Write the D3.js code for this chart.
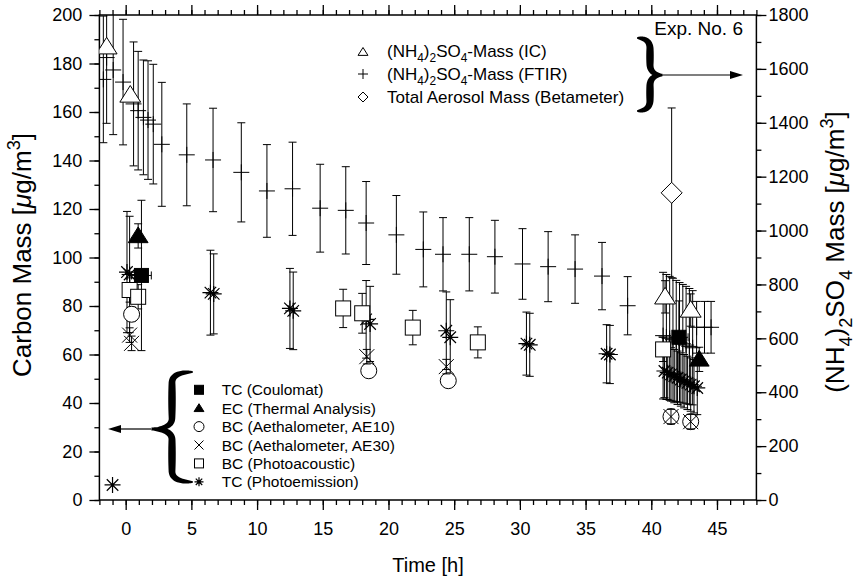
<!DOCTYPE html>
<html><head><meta charset="utf-8">
<script src="https://cdn.jsdelivr.net/npm/d3@7"></script>
<style>
body{margin:0;background:#fff}
svg text{font-family:"Liberation Sans",Arial,Helvetica,sans-serif;fill:#000}
</style></head><body>
<svg id="chart" width="855" height="583"></svg>
<script>
// ---- axis ticks ----
const timeTicks = [0, 5, 10, 15, 20, 25, 30, 35, 40, 45];
const carbonTicks = [0, 20, 40, 60, 80, 100, 120, 140, 160, 180, 200];
const sulfateTicks = [0, 200, 400, 600, 800, 1000, 1200, 1400, 1600, 1800];

// ---- carbon mass series (left axis, µg/m³) ----
const coulTime = [1.2, 42.1];
const coulMass = [92.6, 67.1];
const coulErr = [31, 15];
const coulTimeErr = [0.75, 0.7];

const ecTime = [0.95, 43.65];
const ecMass = [108.9, 58.0];
const ecErr = [5, 5];

const ae10Time = [0.45, 18.5, 24.55, 41.5, 43.0];
const ae10Mass = [76.6, 53.3, 49.2, 34.4, 32.3];
const ae10Err = [3, 2.5, 2.5, 3, 3];

const ae30Time = [0.3, 0.45, 18.35, 24.4, 41.5, 43.0];
const ae30Mass = [68.0, 64.6, 59.1, 55.0, 34.4, 32.3];
const ae30Err = [3, 3, 3, 3, 3, 3];

const paTime = [0.3, 0.95, 16.55, 18.0, 21.85, 26.8, 40.9];
const paMass = [86.6, 83.8, 79.0, 77.0, 71.1, 65.0, 62.1];
const paErr = [5, 5, 7.9, 8.2, 7.1, 6.4, 5];

const peTime = [-1.0, 0.1, 0.3, 6.45, 6.7, 12.5, 12.75, 18.3, 18.6, 24.4, 24.7, 30.5, 30.75, 36.6, 36.85,
  41.0, 41.25, 41.5, 41.75, 42.0, 42.25, 42.5, 42.75, 43.0, 43.25, 43.5];
const peMass = [6.2, 94, 93, 85.5, 85, 79, 78, 74.5, 72.6, 69.8, 67.1, 64.5, 64, 60.3, 60,
  53.2, 52.5, 51.8, 51.1, 50.4, 49.7, 49.0, 48.3, 47.6, 46.9, 46.2];
const peErr = [0, 25, 24, 17.5, 16.5, 16.5, 16, 16, 15.5, 16, 15.5, 13, 13, 12, 12,
  11, 11, 11, 11, 11, 11, 11, 11, 11, 11, 11];

// ---- (NH4)2SO4 / aerosol mass series (right axis, µg/m³) ----
const icTime = [-1.45, 0.35, 41.05, 43.0];
const icMass = [1682, 1503, 754, 705];
const icErr = [0, 0, 60, 60];

const ftirTime = [-1.7, -1.45, -0.95, -0.2, 0.6, 0.95, 1.35, 1.7, 2.1, 2.75, 4.65, 6.65, 8.8, 10.75,
  12.7, 14.8, 16.75, 18.3, 20.6, 22.65, 24.15, 26.15, 28.1, 30.2, 32.15, 34.2, 36.25, 38.2,
  40.9, 41.15, 41.4, 41.65, 41.9, 42.15, 42.4, 42.65, 42.9, 43.15, 43.45, 44.05, 44.55];
const ftirMass = [1561, 1642, 1596, 1551, 1470, 1445, 1420, 1410, 1395, 1320, 1281, 1262, 1216, 1147,
  1155, 1083, 1075, 1028, 984, 930, 912, 912, 903, 876, 866, 857, 831, 721,
  610, 605, 600, 595, 590, 585, 580, 575, 570, 565, 641, 641, 641];
const ftirErr = [235, 244, 240, 233, 230, 220, 213, 220, 222, 230, 189, 192, 184, 172,
  173, 163, 162, 154, 146, 139, 136, 136, 135, 131, 130, 127, 125, 108,
  235, 232, 230, 228, 225, 222, 220, 218, 215, 212, 96, 96, 96];

const betaTime = [41.55];
const betaMass = [1140];
const betaErr = [315];

// ---- legend labels ----
const carbonLegend = ["TC (Coulomat)", "EC (Thermal Analysis)", "BC (Aethalometer, AE10)",
  "BC (Aethalometer, AE30)", "BC (Photoacoustic)", "TC (Photoemission)"];
const carbonLegendSymbols = ["sqFill", "triFill", "circle", "cross", "sqOpen", "star"];

const svg = d3.select("#chart");
const FONT = '"Liberation Sans",Arial,Helvetica,sans-serif';
const TICK_FS = 18;

const x = d3.scaleLinear().domain([-2, 48]).range([99.4, 756.4]);
const yC = d3.scaleLinear().domain([0, 200]).range([500, 15]);
const yS = d3.scaleLinear().domain([0, 1800]).range([500, 15]);

svg.append("defs").append("clipPath").attr("id", "plotClip")
  .append("rect")
  .attr("x", x(-2)).attr("y", yC(200))
  .attr("width", x(48) - x(-2)).attr("height", yC(0) - yC(200));

// ---- axes ----
function styleAxis(g, fs) {
  g.attr("font-family", FONT).attr("font-size", fs);
  g.select(".domain").remove();
  g.selectAll("line").attr("stroke", "#000").attr("stroke-width", 1.3);
  g.selectAll("text").attr("fill", "#000");
}
const x0 = x(-2), x1 = x(48), y0 = yC(0), y1 = yC(200);

styleAxis(svg.append("g").attr("transform", `translate(0,${y0})`)
  .call(d3.axisBottom(x).tickValues(d3.range(-2, 49, 1)).tickSize(5).tickFormat("")), TICK_FS);
styleAxis(svg.append("g").attr("transform", `translate(0,${y0})`)
  .call(d3.axisBottom(x).tickValues(timeTicks).tickSize(10).tickPadding(12).tickFormat(d3.format("d"))), TICK_FS);
styleAxis(svg.append("g").attr("transform", `translate(0,${y1})`)
  .call(d3.axisTop(x).tickValues(d3.range(-2, 49, 1)).tickSize(5).tickFormat("")), TICK_FS);
styleAxis(svg.append("g").attr("transform", `translate(0,${y1})`)
  .call(d3.axisTop(x).tickValues(timeTicks).tickSize(10).tickFormat("")), TICK_FS);

styleAxis(svg.append("g").attr("transform", `translate(${x0},0)`)
  .call(d3.axisLeft(yC).tickValues(d3.range(0, 201, 10)).tickSize(5).tickFormat("")), TICK_FS);
styleAxis(svg.append("g").attr("transform", `translate(${x0},0)`)
  .call(d3.axisLeft(yC).tickValues(carbonTicks).tickSize(10).tickPadding(7).tickFormat(d3.format("d"))), TICK_FS);
styleAxis(svg.append("g").attr("transform", `translate(${x1},0)`)
  .call(d3.axisRight(yS).tickValues(d3.range(0, 1801, 100)).tickSize(5).tickFormat("")), TICK_FS);
styleAxis(svg.append("g").attr("transform", `translate(${x1},0)`)
  .call(d3.axisRight(yS).tickValues(sulfateTicks).tickSize(10).tickPadding(2).tickFormat(d3.format("d"))), TICK_FS);

svg.append("rect").attr("x", x0).attr("y", y1).attr("width", x1 - x0).attr("height", y0 - y1)
  .attr("fill", "none").attr("stroke", "#000").attr("stroke-width", 1.5);

// ---- rich text helper (sub/superscripts, italics) ----
function rich(textSel, parts, fs) {
  let shift = 0;
  parts.forEach(([s, kind, italic]) => {
    const t = textSel.append("tspan").text(s);
    let target = 0;
    if (kind === "sub") target = fs * 0.3;
    if (kind === "sup") target = -fs * 0.42;
    t.attr("dy", target - shift);
    shift = target;
    if (kind) t.attr("font-size", fs * 0.7);
    if (italic) t.attr("font-style", "italic");
  });
}

// axis titles
rich(svg.append("text").attr("x", 428).attr("y", 572).attr("text-anchor", "middle")
  .attr("font-size", 20), [["Time [h]"]], 20);
rich(svg.append("text").attr("transform", "translate(31,255) rotate(-90)").attr("text-anchor", "middle")
  .attr("font-size", 26),
  [["Carbon Mass ["], ["\u03BC", null, true], ["g/m"], ["3", "sup"], ["]"]], 26);
rich(svg.append("text").attr("transform", "translate(844,252) rotate(-90)").attr("text-anchor", "middle")
  .attr("font-size", 26),
  [["(NH"], ["4", "sub"], [")"], ["2", "sub"], ["SO"], ["4", "sub"], [" Mass ["], ["\u03BC", null, true], ["g/m"], ["3", "sup"], ["]"]], 26);

// ---- symbols ----
function symbol(g, type, cx, cy, s) {
  const k = "#000";
  switch (type) {
    case "triOpen":
    case "triFill":
      g.append("path").attr("d", `M${cx},${cy - s}L${cx + s * 1.1},${cy + s * 0.75}L${cx - s * 1.1},${cy + s * 0.75}Z`)
        .attr("fill", type === "triFill" ? k : "#fff").attr("stroke", k).attr("stroke-width", 1);
      break;
    case "sqFill":
    case "sqOpen":
      g.append("rect").attr("x", cx - s).attr("y", cy - s).attr("width", 2 * s).attr("height", 2 * s)
        .attr("fill", type === "sqFill" ? k : "#fff").attr("stroke", k).attr("stroke-width", 1);
      break;
    case "circle":
      g.append("circle").attr("cx", cx).attr("cy", cy).attr("r", s)
        .attr("fill", "#fff").attr("stroke", k).attr("stroke-width", 1);
      break;
    case "cross":
      g.append("path").attr("d", `M${cx - s},${cy - s}L${cx + s},${cy + s}M${cx - s},${cy + s}L${cx + s},${cy - s}`)
        .attr("stroke", k).attr("stroke-width", 1).attr("fill", "none");
      break;
    case "plus":
      g.append("path").attr("d", `M${cx - s},${cy}L${cx + s},${cy}M${cx},${cy - s}L${cx},${cy + s}`)
        .attr("stroke", k).attr("stroke-width", 1).attr("fill", "none");
      break;
    case "diamond":
      g.append("path").attr("d", `M${cx},${cy - s}L${cx + s},${cy}L${cx},${cy + s}L${cx - s},${cy}Z`)
        .attr("fill", "#fff").attr("stroke", k).attr("stroke-width", 1);
      break;
    case "star": {
      const d = s * 0.72;
      g.append("path").attr("d",
        `M${cx - s},${cy}L${cx + s},${cy}M${cx},${cy - s}L${cx},${cy + s}` +
        `M${cx - d},${cy - d}L${cx + d},${cy + d}M${cx - d},${cy + d}L${cx + d},${cy - d}`)
        .attr("stroke", k).attr("stroke-width", 1.2).attr("fill", "none");
      g.append("circle").attr("cx", cx).attr("cy", cy).attr("r", 1.6).attr("fill", k);
      break;
    }
  }
}

const plot = svg.append("g").attr("clip-path", "url(#plotClip)");

function series(ts, vs, es, yScale, type, size, opts = {}) {
  const g = plot.append("g");
  const cap = opts.cap || 4;
  const pts = ts.map((t, i) => ({ t, v: vs[i], e: es ? es[i] : 0, te: opts.te ? opts.te[i] : 0 }));
  // error bars first, symbols on top
  g.selectAll("path.eb").data(pts.filter(p => p.e > 0)).join("path").attr("class", "eb")
    .attr("d", p => {
      const cx = x(p.t), ya = yScale(p.v + p.e), yb = yScale(p.v - p.e);
      return `M${cx},${ya}L${cx},${yb}M${cx - cap},${ya}L${cx + cap},${ya}M${cx - cap},${yb}L${cx + cap},${yb}`;
    })
    .attr("stroke", "#000").attr("stroke-width", 1).attr("fill", "none");
  g.selectAll("path.xb").data(pts.filter(p => p.te > 0)).join("path").attr("class", "xb")
    .attr("d", p => {
      const cy = yScale(p.v), xa = x(p.t - p.te), xb = x(p.t + p.te);
      return `M${xa},${cy}L${xb},${cy}M${xa},${cy - cap}L${xa},${cy + cap}M${xb},${cy - cap}L${xb},${cy + cap}`;
    })
    .attr("stroke", "#000").attr("stroke-width", 1).attr("fill", "none");
  pts.forEach(p => symbol(g, type, x(p.t), yScale(p.v), size));
}

series(betaTime, betaMass, betaErr, yS, "diamond", 10.5);
series(ftirTime, ftirMass, ftirErr, yS, "plus", 8);
series(icTime, icMass, icErr, yS, "triOpen", 9.5);
series(peTime, peMass, peErr, yC, "star", 8);
series(paTime, paMass, paErr, yC, "sqOpen", 7.5);
series(ae10Time, ae10Mass, ae10Err, yC, "circle", 8);
series(ae30Time, ae30Mass, ae30Err, yC, "cross", 7.5);
series(coulTime, coulMass, coulErr, yC, "sqFill", 7, { te: coulTimeErr });
series(ecTime, ecMass, ecErr, yC, "triFill", 9);

// ---- legends ----
// centre line of a curly brace; the tip points towards xTip
function braceLine(xEnd, xTip, yTop, yBot, yMid) {
  const xs = (xEnd + xTip) / 2, r = 11;
  return `M${xEnd},${yTop}Q${xs},${yTop} ${xs},${yTop + r}L${xs},${yMid - r}Q${xs},${yMid} ${xTip},${yMid}` +
    `Q${xs},${yMid} ${xs},${yMid + r}L${xs},${yBot - r}Q${xs},${yBot} ${xEnd},${yBot}`;
}
// filled brace whose strokes swell in each arm and taper at the ends and the tip
function drawBrace(xEnd, xTip, yTop, yBot, yMid, wMax) {
  const guide = svg.append("path").attr("d", braceLine(xEnd, xTip, yTop, yBot, yMid)).attr("fill", "none");
  const node = guide.node(), L = node.getTotalLength(), N = 160;
  const pts = d3.range(N + 1).map(i => node.getPointAtLength(L * i / N));
  const left = [], right = [];
  pts.forEach((p, i) => {
    const a = pts[Math.max(0, i - 1)], b = pts[Math.min(N, i + 1)];
    let dx = b.x - a.x, dy = b.y - a.y; const len = Math.hypot(dx, dy) || 1;
    dx /= len; dy /= len;
    const s = i / N, u = s < 0.5 ? s * 2 : (s - 0.5) * 2;
    const h = 0.5 + (wMax / 2) * Math.pow(Math.sin(Math.PI * u), 0.6);
    left.push([p.x - dy * h, p.y + dx * h]);
    right.push([p.x + dy * h, p.y - dx * h]);
  });
  guide.remove();
  svg.append("path").attr("d", d3.line()(left.concat(right.reverse())) + "Z").attr("fill", "#000");
}
function arrow(xa, xb, yy) {
  const dir = xb > xa ? 1 : -1, L = 13, w = 4;
  svg.append("line").attr("x1", xa).attr("y1", yy).attr("x2", xb - dir * L).attr("y2", yy)
    .attr("stroke", "#000").attr("stroke-width", 1.2);
  svg.append("path").attr("d", `M${xb},${yy}L${xb - dir * L},${yy - w}L${xb - dir * L},${yy + w}Z`).attr("fill", "#000");
}

// right-axis legend
const legR = svg.append("g");
const legRY = [51, 74, 97];
symbol(legR, "triOpen", 363, legRY[0] + 1, 4.5);
symbol(legR, "plus", 363, legRY[1], 5);
symbol(legR, "diamond", 363, legRY[2], 5);
rich(legR.append("text").attr("x", 387).attr("y", legRY[0] + 6).attr("font-size", 17),
  [["(NH"], ["4", "sub"], [")"], ["2", "sub"], ["SO"], ["4", "sub"], ["-Mass (IC)"]], 17);
rich(legR.append("text").attr("x", 387).attr("y", legRY[1] + 6).attr("font-size", 17),
  [["(NH"], ["4", "sub"], [")"], ["2", "sub"], ["SO"], ["4", "sub"], ["-Mass (FTIR)"]], 17);
legR.append("text").attr("x", 387).attr("y", legRY[2] + 6).attr("font-size", 17).text("Total Aerosol Mass (Betameter)");
svg.append("text").attr("x", 743).attr("y", 35).attr("text-anchor", "end").attr("font-size", 19).text("Exp. No. 6");
drawBrace(637, 663, 38, 111, 75, 6.5);
arrow(663, 743, 75);

// left-axis legend
const legL = svg.append("g");
carbonLegend.forEach((lab, i) => {
  const yy = 389.8 + i * 18.4;
  symbol(legL, carbonLegendSymbols[i], 199, yy, carbonLegendSymbols[i] === "circle" ? 5 : 4.5);
  legL.append("text").attr("x", 221.7).attr("y", yy + 5.5).attr("font-size", 15.5).text(lab);
});
drawBrace(193, 151, 372, 482, 429, 6.5);
arrow(151, 108, 429);
</script>
</body></html>
